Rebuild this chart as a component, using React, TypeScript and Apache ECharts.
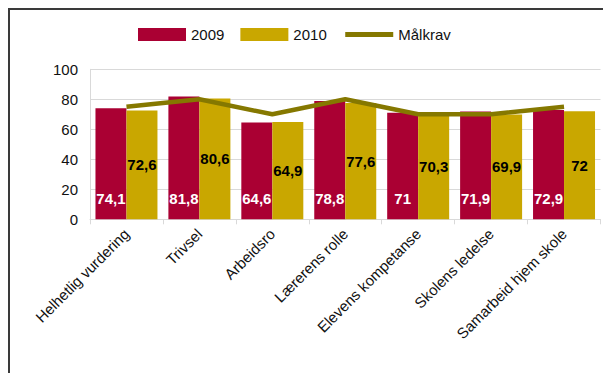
import React, { useEffect, useRef } from "react";
import * as echarts from "echarts";

const categories = [
  "Helhetlig vurdering",
  "Trivsel",
  "Arbeidsro",
  "Lærerens rolle",
  "Elevens kompetanse",
  "Skolens ledelse",
  "Samarbeid hjem skole",
];
const values2009 = [74.1, 81.8, 64.6, 78.8, 71, 71.9, 72.9];
const values2010 = [72.6, 80.6, 64.9, 77.6, 70.3, 69.9, 72];
const malkrav = [75, 80, 70, 80, 70, 70, 75];
const yTicks = { min: 0, max: 100, interval: 20 };

const FONT = "'Liberation Sans', Arial, sans-serif";
const fmt = (p: any) => String(p.value).replace(".", ",");

export default function App() {
  const ref = useRef<HTMLDivElement>(null);
  useEffect(() => {
    if (!ref.current) return;
    const chart = echarts.init(ref.current, null, { renderer: "svg" });
    chart.setOption({
      animation: false,
      textStyle: { fontFamily: FONT },
      legend: {
        top: 12,
        left: 123,
        itemWidth: 48,
        itemHeight: 13,
        itemGap: 16,
        textStyle: { fontFamily: FONT, fontSize: 15, color: "#111" },
        data: [
          { name: "2009", icon: "rect" },
          { name: "2010", icon: "rect" },
          {
            name: "Målkrav",
            itemStyle: { opacity: 0 },
            lineStyle: { width: 5, color: "#857800" },
          },
        ],
      },
      grid: { left: 80, right: 10.5, top: 59.3, bottom: 153.7, containLabel: false },
      xAxis: {
        type: "category",
        data: categories,
        axisLine: { show: true, lineStyle: { color: "#d9d9d9", width: 1 } },
        axisTick: { show: true, length: 5, lineStyle: { color: "#d9d9d9" } },
        axisLabel: {
          rotate: 45,
          interval: 0,
          margin: 12,
          fontFamily: FONT,
          fontSize: 15,
          color: "#111",
        },
      },
      yAxis: {
        type: "value",
        min: yTicks.min,
        max: yTicks.max,
        interval: yTicks.interval,
        axisLine: { show: true, lineStyle: { color: "#d9d9d9", width: 1 } },
        axisTick: { show: false },
        splitLine: { lineStyle: { color: "#d9d9d9", width: 1 } },
        axisLabel: { fontFamily: FONT, fontSize: 15, color: "#111", margin: 12 },
      },
      series: [
        {
          name: "2009",
          type: "bar",
          data: values2009,
          barGap: "0%",
          barCategoryGap: "15%",
          itemStyle: { color: "#AA0033" },
          label: {
            show: true,
            position: "insideBottom",
            distance: 13,
            formatter: fmt,
            color: "#fff",
            fontWeight: "bold",
            fontSize: 15,
            fontFamily: FONT,
          },
          z: 2,
        },
        {
          name: "2010",
          type: "bar",
          data: values2010,
          barGap: "0%",
          barCategoryGap: "15%",
          itemStyle: { color: "#C9A700" },
          label: {
            show: true,
            position: "inside",
            formatter: fmt,
            color: "#000",
            fontWeight: "bold",
            fontSize: 15,
            fontFamily: FONT,
          },
          z: 2,
        },
        {
          name: "Målkrav",
          type: "line",
          data: malkrav,
          symbol: "none",
          showSymbol: false,
          lineStyle: { color: "#857800", width: 4.5 },
          itemStyle: { color: "#857800" },
          z: 5,
        },
      ],
    });
    return () => chart.dispose();
  }, []);
  return (
    <div
      style={{
        width: 603,
        height: 365,
        boxSizing: "border-box",
        borderTop: "2px solid #3a3a3a",
        borderLeft: "2px solid #3a3a3a",
        overflow: "hidden",
        background: "#fff",
      }}
    >
      <div ref={ref} style={{ width: 601, height: 363 }} />
    </div>
  );
}
